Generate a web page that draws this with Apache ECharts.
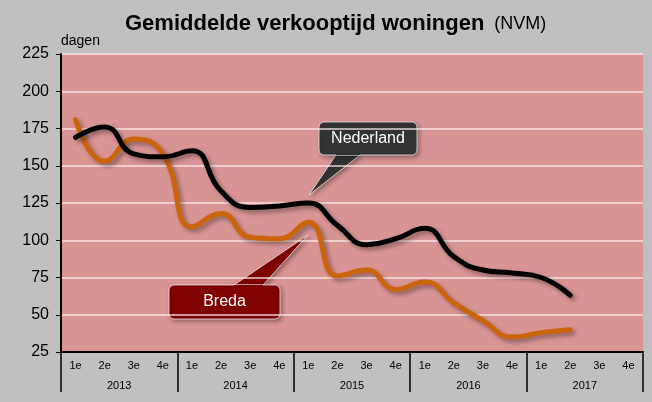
<!DOCTYPE html>
<html>
<head>
<meta charset="utf-8">
<script src="https://cdn.jsdelivr.net/npm/echarts@6/dist/echarts.min.js"></script>
<style>
body { margin: 0; background: #c0c0c0; }
#chart { width: 652px; height: 402px; }
</style>
</head>
<body>
<div id="chart"></div>
<script>
// kwartalen 2013 t/m 2017
var quarters = ['1e', '2e', '3e', '4e', '1e', '2e', '3e', '4e', '1e', '2e', '3e', '4e',
  '1e', '2e', '3e', '4e', '1e', '2e', '3e', '4e']
var years = ['2013', '2014', '2015', '2016', '2017']
var nederland = [169, 176, 158, 156, 160, 133, 122, 123, 125, 110, 97, 101, 108, 89, 80, 78, 75, 63]
var breda = [181, 153, 168, 158, 109, 118, 102, 101, 112, 76, 80, 67, 72, 58, 46, 35, 38, 40]
var yTicks = [25, 225, 25] // min, max, interval

function withEndLabel (values, color, offset) {
  return values.map(function (v, i) {
    if (i !== values.length - 1) return v
    return {
      value: v,
      label: {
        show: true,
        position: 'right',
        distance: 14,
        offset: offset,
        formatter: '{c}',
        color: color,
        fontWeight: 'bold',
        fontSize: 15,
        fontFamily: 'Liberation Sans'
      }
    }
  })
}

function callout (x, y, w, h, tail, text, fill) {
  var up = tail[2][1] < y
  return {
    type: 'group',
    children: [
      {
        type: 'polygon',
        shape: { points: tail },
        style: { fill: fill, stroke: 'rgba(255,255,255,0.7)', lineWidth: 1,
          shadowColor: 'rgba(0,0,0,0.35)', shadowBlur: 4, shadowOffsetX: 2, shadowOffsetY: 2 }
      },
      {
        type: 'rect',
        shape: { x: x, y: y, width: w, height: h, r: 5 },
        style: { fill: fill, stroke: 'rgba(255,255,255,0.7)', lineWidth: 1,
          shadowColor: 'rgba(0,0,0,0.35)', shadowBlur: 4, shadowOffsetX: 2, shadowOffsetY: 2 }
      },
      {
        type: 'polygon',
        shape: { points: [tail[0], tail[1], [tail[1][0], tail[1][1] + (up ? 2 : -2)], [tail[0][0], tail[0][1] + (up ? 2 : -2)]] },
        style: { fill: fill }
      },
      {
        type: 'text',
        x: x + w / 2,
        y: y + h / 2,
        style: { text: text, fill: '#fff', fontSize: 16, fontFamily: 'Liberation Sans',
          align: 'center', verticalAlign: 'middle' }
      }
    ]
  }
}

var chart = echarts.init(document.getElementById('chart'))
var lineShadow = { shadowColor: 'rgba(0,0,0,0.35)', shadowBlur: 4, shadowOffsetX: 3, shadowOffsetY: 3 }

chart.setOption({
  backgroundColor: '#c0c0c0',
  animation: false,
  title: {
    text: '{a|Gemiddelde verkooptijd woningen}  {b|(NVM)}',
    left: 120,
    top: 8,
    textStyle: {
      rich: {
        a: { fontSize: 22, fontWeight: 'bold', color: '#000', fontFamily: 'Liberation Sans' },
        b: { fontSize: 18, fontWeight: 'normal', color: '#000', fontFamily: 'Liberation Sans' }
      }
    }
  },
  grid: {
    left: 61,
    right: 9,
    top: 54,
    bottom: 50,
    show: true,
    backgroundColor: '#d99494',
    borderWidth: 0
  },
  xAxis: [
    {
      type: 'category',
      data: quarters,
      boundaryGap: true,
      axisLine: { lineStyle: { color: '#000', width: 2 } },
      axisTick: { interval: 0, length: 19, lineStyle: { color: '#000', width: 1.5 } },
      axisLabel: { interval: 0, margin: 8, color: '#000', fontSize: 11, fontFamily: 'Liberation Sans' }
    },
    {
      type: 'category',
      data: years,
      position: 'bottom',
      boundaryGap: true,
      axisLine: { show: true, lineStyle: { color: '#000', width: 2 } },
      axisTick: { show: true, interval: 0, length: 40, lineStyle: { color: '#000', width: 1.5 } },
      axisLabel: { interval: 0, margin: 28, color: '#000', fontSize: 11, fontFamily: 'Liberation Sans' }
    }
  ],
  yAxis: {
    type: 'value',
    min: yTicks[0],
    max: yTicks[1],
    interval: yTicks[2],
    name: 'dagen',
    nameLocation: 'end',
    nameGap: 6,
    nameTextStyle: { align: 'left', color: '#000', fontSize: 14, fontFamily: 'Liberation Sans' },
    axisLine: { show: true, lineStyle: { color: '#000', width: 2 } },
    axisTick: { show: true, length: 5, lineStyle: { color: '#000' } },
    axisLabel: { margin: 12, color: '#000', fontSize: 16, fontFamily: 'Liberation Sans' },
    splitLine: { lineStyle: { color: 'rgba(255,240,240,0.85)', width: 1.5 } }
  },
  series: [
    {
      name: 'Nederland',
      type: 'line',
      data: withEndLabel(nederland, '#000', [0, -8]),
      smooth: 0.5,
      symbol: 'none',
      lineStyle: Object.assign({ color: '#000', width: 5, cap: 'round' }, lineShadow),
      z: 3
    },
    {
      name: 'Breda',
      type: 'line',
      data: withEndLabel(breda, '#c8620c', [0, 0]),
      smooth: 0.5,
      symbol: 'none',
      lineStyle: Object.assign({ color: '#cc640c', width: 5, cap: 'round' }, lineShadow),
      z: 2
    }
  ],
  graphic: [
    callout(319, 122, 98, 33, [[336, 155], [360, 155], [309, 195]], 'Nederland', '#333333'),
    callout(169, 285, 111, 34, [[263, 285], [234, 285], [308, 235]], 'Breda', '#800000')
  ]
})
</script>
</body>
</html>
